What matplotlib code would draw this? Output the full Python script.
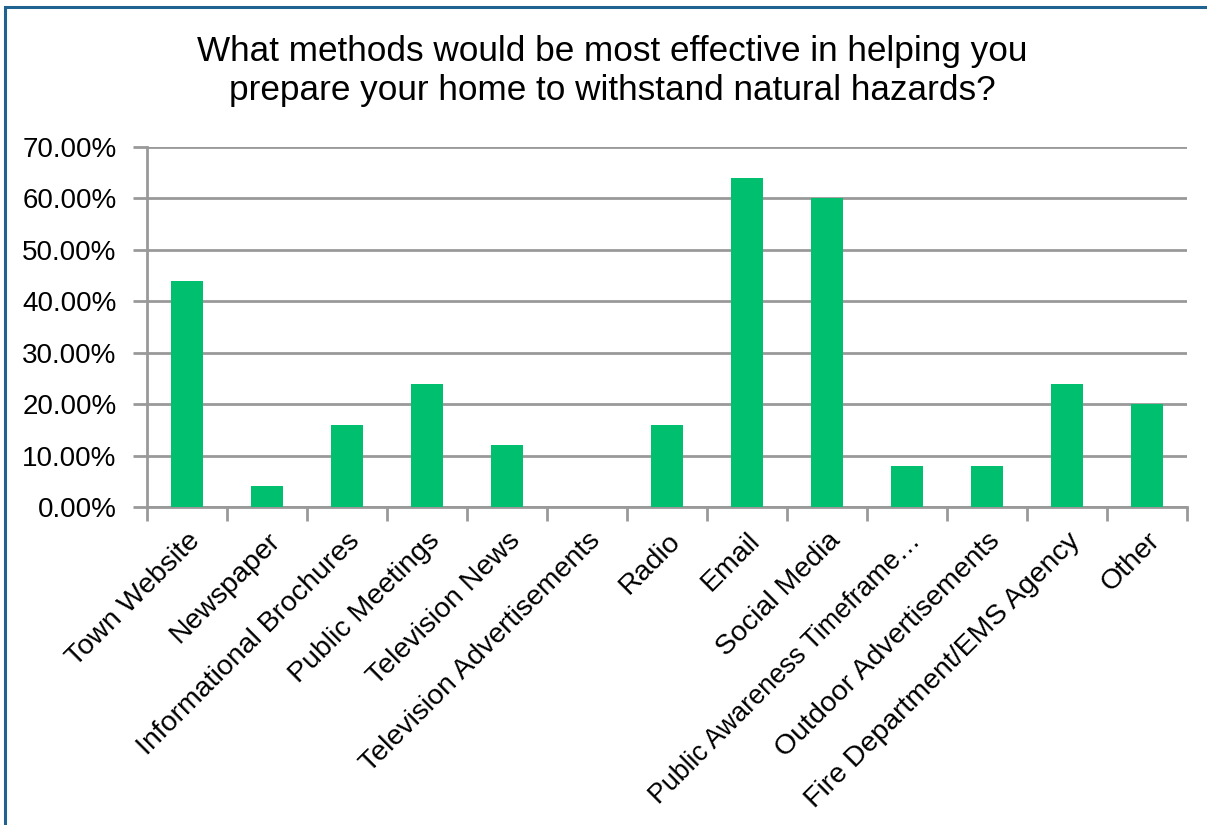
import matplotlib.pyplot as plt
from matplotlib.patches import Rectangle
from matplotlib.ticker import FuncFormatter, FixedLocator

plt.rcParams['font.family'] = ['Liberation Sans', 'DejaVu Sans']

categories = ['Town Website', 'Newspaper', 'Informational Brochures',
              'Public Meetings', 'Television News', 'Television Advertisements',
              'Radio', 'Email', 'Social Media', 'Public Awareness Timeframe\u2026',
              'Outdoor Advertisements', 'Fire Department/EMS Agency', 'Other']
values = [0.44, 0.04, 0.16, 0.24, 0.12, 0.0, 0.16, 0.64, 0.60, 0.08, 0.08, 0.24, 0.20]

fig = plt.figure(figsize=(12.07, 8.25), dpi=100)
W, H = 1207, 825
ax = fig.add_axes([147 / W, 1 - 507 / H, 1040 / W, 360 / H])

grid_c = '#999999'
x = range(len(categories))
ax.bar(x, values, width=0.4, color='#00C06F', zorder=3)

ax.set_xlim(-0.5, len(categories) - 0.5)
ax.set_ylim(0, 0.70)
ax.set_yticks([i / 10 for i in range(8)])
ax.yaxis.set_major_formatter(FuncFormatter(lambda v, p: f'{v * 100:.2f}%'))
ax.grid(axis='y', color=grid_c, linewidth=2, zorder=0)

ax.set_xticks(list(x))
labels = ax.set_xticklabels(categories, rotation=45, ha='right', va='top',
                            rotation_mode='anchor', fontsize=20.5)
labels[9].set_fontsize(19.3)
ax.tick_params(axis='x', length=0, pad=15)
ax.xaxis.set_minor_locator(FixedLocator([i - 0.5 for i in range(len(categories) + 1)]))
ax.tick_params(axis='x', which='minor', length=10, width=2, color=grid_c)
ax.tick_params(axis='y', length=10, width=2, color=grid_c, labelsize=20, pad=12)

for s in ['top', 'right']:
    ax.spines[s].set_visible(False)
for s in ['left', 'bottom']:
    ax.spines[s].set_color(grid_c)
    ax.spines[s].set_linewidth(2)

fig.text(612 / W, 1 - 71 / H,
         'What methods would be most effective in helping you\nprepare your home to withstand natural hazards?',
         ha='center', va='center', fontsize=25.3, linespacing=1.22)

fig.patches.append(Rectangle((5 / W, -0.1), 1.2, 1 - 7 / H + 0.1,
                             transform=fig.transFigure, fill=False,
                             edgecolor='#1F6391', linewidth=2.2))

plt.savefig('out.png')
